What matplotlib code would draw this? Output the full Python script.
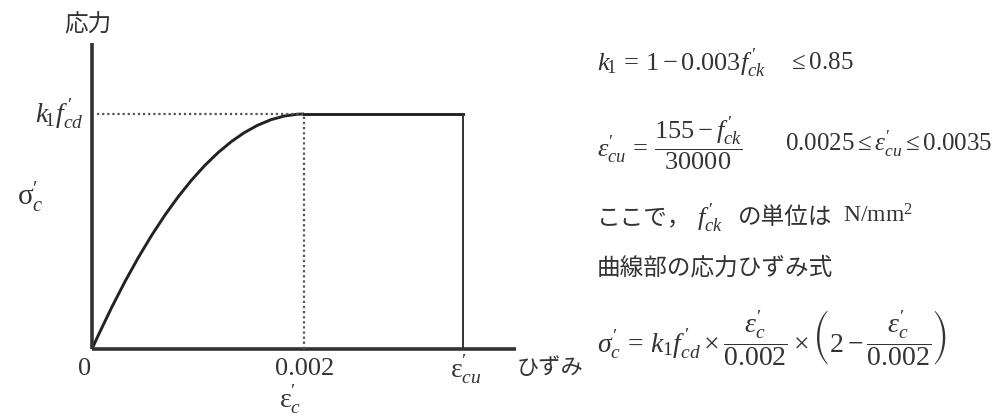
import matplotlib
matplotlib.use("Agg")
import matplotlib.pyplot as plt
from matplotlib.path import Path
from matplotlib.patches import PathPatch

plt.rcParams['mathtext.fontset'] = 'custom'
plt.rcParams['mathtext.rm'] = 'Liberation Serif'
plt.rcParams['mathtext.it'] = 'Liberation Serif:italic'
plt.rcParams['mathtext.bf'] = 'Liberation Serif:bold'
plt.rcParams['mathtext.fallback'] = 'stix'
plt.rcParams['font.family'] = ['Liberation Serif', 'Noto Sans CJK JP', 'DejaVu Sans']

# parabola part as a quadratic curve: start, control, end (strain, stress / k1 f'cd)
curve_strain = [0.0, 0.001, 0.002]
curve_stress = [0.0, 1.0, 1.0]
# flat part and drop at the ultimate strain
flat_strain = [0.002, 0.0035, 0.0035]
flat_stress = [1.0, 1.0, 0.0]
eps_peak = 0.002
x_axis_end = 0.0040
y_axis_end = 1.30

ink = '#333333'
W, H = 1001, 417

fig = plt.figure(figsize=(W / 100, H / 100), dpi=100)
ax = fig.add_axes([0, 0, 1, 1])
ax.axis('off')
ax.set_xlim(-92 * 0.002 / 212, (W - 92) * 0.002 / 212)
ax.set_ylim(-(H - 349) / 235, 349 / 235)

# axes
ax.plot([0, 0], [0, y_axis_end], color=ink, lw=2.6, solid_capstyle='butt')
ax.plot([0, x_axis_end], [0, 0], color=ink, lw=2.6, solid_capstyle='butt')
# guide lines
ax.plot([0.00005, eps_peak], [1, 1], color='#555555', lw=1.6, ls=(0, (1, 1.3)))
ax.plot([eps_peak, eps_peak], [0, 1], color='#555555', lw=1.6, ls=(0, (1, 1.3)))
# curve
path = Path(list(zip(curve_strain, curve_stress)), [Path.MOVETO, Path.CURVE3, Path.CURVE3])
ax.add_patch(PathPatch(path, fill=False, edgecolor='#222222', lw=2.1))
ax.plot(flat_strain[:2], flat_stress[:2], color='#222222', lw=2.1)
ax.plot(flat_strain[1:], flat_stress[1:], color=ink, lw=1.4)


def put(x, y, s, size=18, ha='left', va='center', family=None):
    kw = {}
    if family is not None:
        kw['family'] = family
    fig.text(x / W, 1 - y / H, s, fontsize=size, ha=ha, va=va, color=ink, **kw)


jp = ['Noto Sans CJK JP', 'DejaVu Sans']

# axis labels
put(88, 25, '応力', size=17, ha='center', family=jp)
put(83, 115, r"$k_{\!1} f^{\,\prime}_{cd}$", size=20, ha='right')
put(17, 197, r"$\mathrm{\sigma}^{\prime}_{c}$", size=21)
put(85, 369, '0', size=19, ha='center')
put(305, 369, '0.002', size=19, ha='center')
put(290, 399, r"$\mathrm{\varepsilon}^{\prime}_{c}$", size=20, ha='center')
put(466, 370, r"$\mathrm{\varepsilon}^{\prime}_{cu}$", size=20, ha='center')
put(517, 368, 'ひずみ', size=16, family=jp)

# formulas
put(597, 63, r"$k_{\!1} \,=\, 1 - 0.003 f^{\,\prime}_{ck}$", size=19)
put(788, 63, r"$\leq 0.85$", size=18)
put(597, 144, r"$\varepsilon^{\prime}_{cu} \,=\, \dfrac{155 - f^{\,\prime}_{ck}}{30000}$", size=19)
put(785, 144, r"$0.0025 \leq \varepsilon^{\prime}_{cu} \leq 0.0035$", size=18)
put(597, 218, 'ここで，', size=17, family=jp)
put(697, 218, r"$f^{\,\prime}_{ck}$", size=19)
put(738, 218, 'の単位は', size=17, family=jp)
put(843, 216, r"$\mathrm{N/mm}^2$", size=17)
put(597, 268, '曲線部の応力ひずみ式', size=17, family=jp)
put(597, 338, r"$\sigma^{\prime}_c \,=\, k_{\mathit{1}} f^{\,\prime}_{cd} \times \dfrac{\varepsilon^{\prime}_c}{0.002}"
              r" \times \left(2 - \dfrac{\varepsilon^{\prime}_c}{0.002}\right)$", size=20)

fig.savefig('out.png', dpi=100, facecolor='white')
